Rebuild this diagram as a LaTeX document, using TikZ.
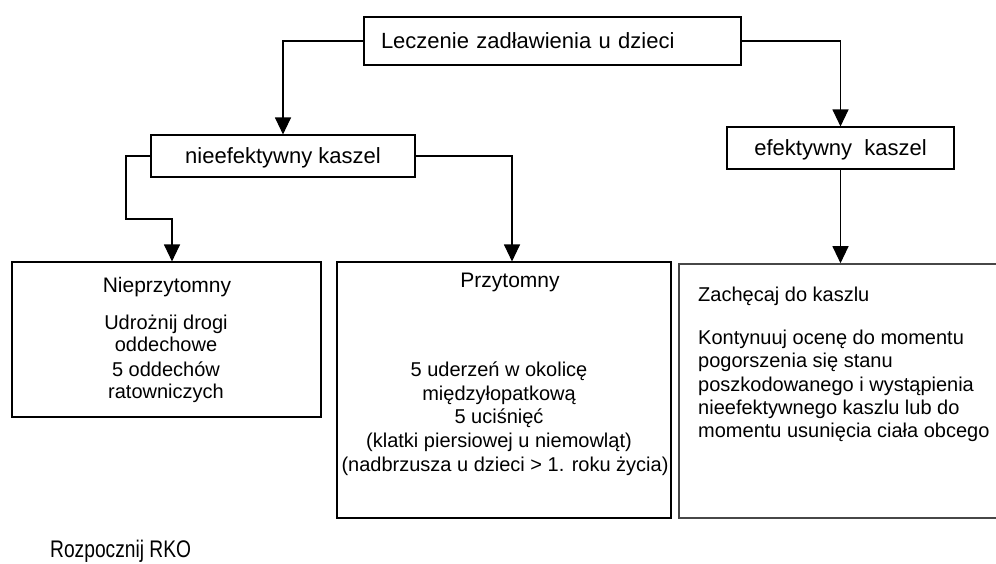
\documentclass[tikz,border=0pt]{standalone}
\usepackage{fontspec}
\setmainfont{Liberation Sans}
\newfontfamily\narrowfont[FakeStretch=0.8]{Liberation Sans}
\usetikzlibrary{arrows.meta}
\begin{document}
\begin{tikzpicture}[x=1pt,y=-1pt,
  box/.style={draw, line width=1.1pt, inner sep=0pt},
  bigtxt/.style={font=\fontsize{22}{26}\selectfont, text height=19pt, text depth=5pt},
  lbl/.style={font=\fontsize{20}{24}\selectfont, inner sep=0pt, anchor=base},
  llbl/.style={lbl, anchor=base west},
  head/.style={font=\fontsize{21}{25}\selectfont, inner sep=0pt, anchor=base},
  conn/.style={line width=1.1pt, -{Triangle[width=16pt,length=17pt]}},
]
\useasboundingbox (0,0) rectangle (996,563);

% boxes
\node[box, bigtxt, minimum width=377pt, minimum height=48pt, text width=343pt,
      inner xsep=17pt, align=left] (top) at (552.5,41) {Leczenie zadławienia u dzieci};
\node[box, bigtxt, minimum width=264pt, minimum height=42pt] (nief) at (283,156) {nieefektywny kaszel};
\node[box, bigtxt, minimum width=227pt, minimum height=42pt] (ef) at (840.5,148) {efektywny\ \ kaszel};
\node[box, minimum width=309pt, minimum height=155pt] (nie) at (166.5,339.5) {};
\node[box, minimum width=334pt, minimum height=256pt] (prz) at (504,390) {};
\begin{scope}
  \clip (0,0) rectangle (996,563);
  \node[box, draw=black!72, line width=1.6pt, minimum width=340pt, minimum height=254pt] (rb) at (849,391) {};
\end{scope}

% texts in Nieprzytomny
\node[head] (t1) at (167,292) {Nieprzytomny};
\node[lbl] (t2) at (166,329) {Udrożnij drogi};
\node[lbl] (t3) at (166,351.5) {oddechowe};
\node[lbl] (t4) at (166,376.5) {5 oddechów};
\node[lbl] (t5) at (166,398) {ratowniczych};

% texts in Przytomny
\node[head] (p1) at (510,287) {Przytomny};
\node[lbl] (p2) at (499,376) {5 uderzeń w okolicę};
\node[lbl] (p3) at (499,400) {międzyłopatkową};
\node[lbl] (p4) at (499,423.5) {5 uciśnięć};
\node[lbl] (p5) at (499,447.5) {(klatki piersiowej u niemowląt)};
\node[lbl] (p6) at (505,471) {(nadbrzusza u dzieci > 1. roku życia)};

% texts in right box
\node[llbl] (r1) at (698,301) {Zachęcaj do kaszlu};
\node[llbl] (r2) at (698,344) {Kontynuuj ocenę do momentu};
\node[llbl] (r3) at (698,367.5) {pogorszenia się stanu};
\node[llbl] (r4) at (698,391) {poszkodowanego i wystąpienia};
\node[llbl] (r5) at (698,414) {nieefektywnego kaszlu lub do};
\node[llbl] (r6) at (698,437.5) {momentu usunięcia ciała obcego};

% bottom text
\node[inner sep=0pt, anchor=base west, font=\narrowfont\fontsize{24}{28}\selectfont] (rko) at (50,557) {Rozpocznij RKO};

% connectors
\coordinate (k1) at (126,219);
\coordinate (k2) at (172,219);
\coordinate (k3) at (512,0);
\draw[conn] (top.west) -| (nief.north);
\draw[conn] (top.east) -| (ef.north);
\draw[conn] (nief.west) -| (k1) -- (k2) -- (k2 |- nie.north);
\draw[conn] (nief.east) -| (k3 |- prz.north);
\draw[conn] (ef.south) -- (ef.south |- rb.north);
\end{tikzpicture}
\end{document}
